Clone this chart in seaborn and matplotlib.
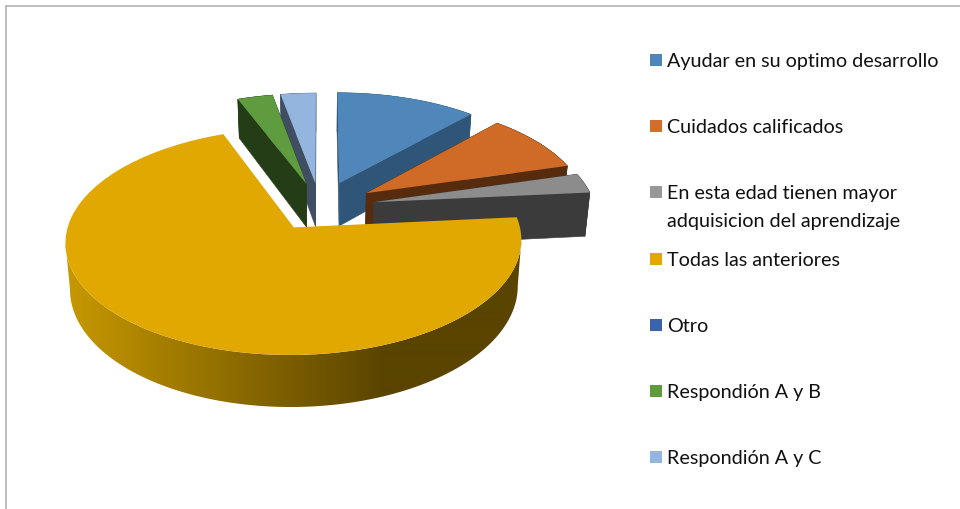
import numpy as np
import matplotlib
matplotlib.use("Agg")
import matplotlib.pyplot as plt
import seaborn as sns
from matplotlib.collections import PolyCollection
from matplotlib.patches import Polygon, Rectangle
from matplotlib.transforms import Transform

# ---- data ----
categories = ["Ayudar en su optimo desarrollo", "Cuidados calificados",
              "En esta edad tienen mayor\nadquisicion del aprendizaje",
              "Todas las anteriores", "Otro", "Respondión A y B", "Respondión A y C"]
values = [4, 3, 1, 24, 0, 1, 1]
explode = [0.25, 0.25, 0.25, 0.22, 0.22, 0.23, 0.23]
top_colors = ["#4f87bb", "#cf6b27", "#8c8c8c", "#e0a800", "#3b63ab", "#5f9b3f", "#94b5de"]
wall_colors = ["#2f5579", "#572c0e", "#3b3b3b", "#5c4500", "#223c66", "#253d17", "#3f4e63"]
legend_colors = ["#4e86bb", "#d36d2b", "#979797", "#e0a800", "#3b63ab", "#5f9b3c", "#94b6de"]
draw_order = [6, 5, 0, 1, 2, 4, 3]

# ---- projection of the pie plane ----
CX, CY, A, B, K, DEPTH, SHRINK = 320.0, 208.0, 221.0, 106.6, 0.122, 44.5, 0.982


def project(xy, z=0.0):
    xy = np.asarray(xy, float)
    x, y = xy[..., 0], xy[..., 1]
    w = 1 + K * y
    px = A * x / w * (1 - (1 - SHRINK) * z)
    py = -B * y / w + DEPTH * z / w
    return np.stack([CX + px, CY + py], axis=-1)


class Perspective(Transform):
    input_dims = output_dims = 2
    has_inverse = False
    is_affine = False

    def transform_non_affine(self, values):
        return project(values)


sns.set_theme(style="white")
plt.rcParams["font.family"] = ["Lato", "DejaVu Sans"]

fig = plt.figure(figsize=(9.6, 5.1), dpi=100, facecolor="white")
ax = fig.add_axes([0, 0, 1, 1])

wedges, _ = ax.pie(values, explode=explode, startangle=90, counterclock=False,
                   colors=sns.color_palette(top_colors), radius=1.0, frame=False)

persp = Perspective()
shade = sns.blend_palette(["#c59700", "#5a4400"], 256, as_cmap=True)

for rank, i in enumerate(draw_order):
    w = wedges[i]
    if values[i] == 0:
        w.set_visible(False)
        continue
    w.set_transform(persp + ax.transData)
    w.set_zorder(2 * rank + 1)
    w.set_linewidth(0)
    cx, cy = w.center
    t = np.radians(np.linspace(w.theta1, w.theta2, max(int(w.theta2 - w.theta1) * 2, 8)))
    rim = np.column_stack([cx + w.r * np.cos(t), cy + w.r * np.sin(t)])
    rim_top, rim_bot = project(rim, 0), project(rim, 1)
    if i == 3:
        # front-facing part of the rim, shaded from left to right
        lo, hi = np.argmin(rim_top[:, 0]), np.argmax(rim_top[:, 0])
        outline = np.vstack([rim_top[lo:hi + 1], rim_bot[lo:hi + 1][::-1]])
        shape = Polygon(outline, closed=True, facecolor="none", edgecolor="none",
                        transform=ax.transData)
        ax.add_patch(shape)
        xs = np.arange(0, 960)
        ramp = np.clip((xs - 69) / (385 - 69), 0, 1)[None, :]
        img = ax.imshow(ramp, cmap=shade, vmin=0, vmax=1, extent=(0, 960, 510, 0),
                        aspect="auto", interpolation="bilinear", zorder=2 * rank)
        img.set_clip_path(shape)
    else:
        quads = [np.array([rim_top[j], rim_top[j + 1], rim_bot[j + 1], rim_bot[j]])
                 for j in range(len(rim) - 1)]
        c_top, c_bot = project([cx, cy], 0), project([cx, cy], 1)
        for k in (0, -1):
            quads.append(np.array([c_top, rim_top[k], rim_bot[k], c_bot]))
        ax.add_collection(PolyCollection(quads, facecolors=wall_colors[i],
                                         edgecolors=wall_colors[i], linewidths=0.4,
                                         zorder=2 * rank), autolim=False)

ax.set_aspect("auto")
ax.set_xlim(0, 960)
ax.set_ylim(510, 0)
ax.axis("off")

# ---- legend ----
row_y = [60, 126, 192, 259, 325, 391, 457]
for label, color, y in zip(categories, legend_colors, row_y):
    ax.add_patch(Rectangle((650, y - 5), 12, 12, facecolor=color, edgecolor="none", zorder=30))
    for n, line in enumerate(label.split("\n")):
        ax.text(667, y + 7 + n * 28, line, fontsize=14.2, color="#111111",
                ha="left", va="baseline", zorder=30)

# ---- chart frame ----
ax.plot([5.5, 5.5, 960], [510, 6.5, 6.5], color="#ababab", lw=1.1, zorder=40,
        solid_joinstyle="miter")

fig.savefig("out.png", dpi=100, facecolor="white")
